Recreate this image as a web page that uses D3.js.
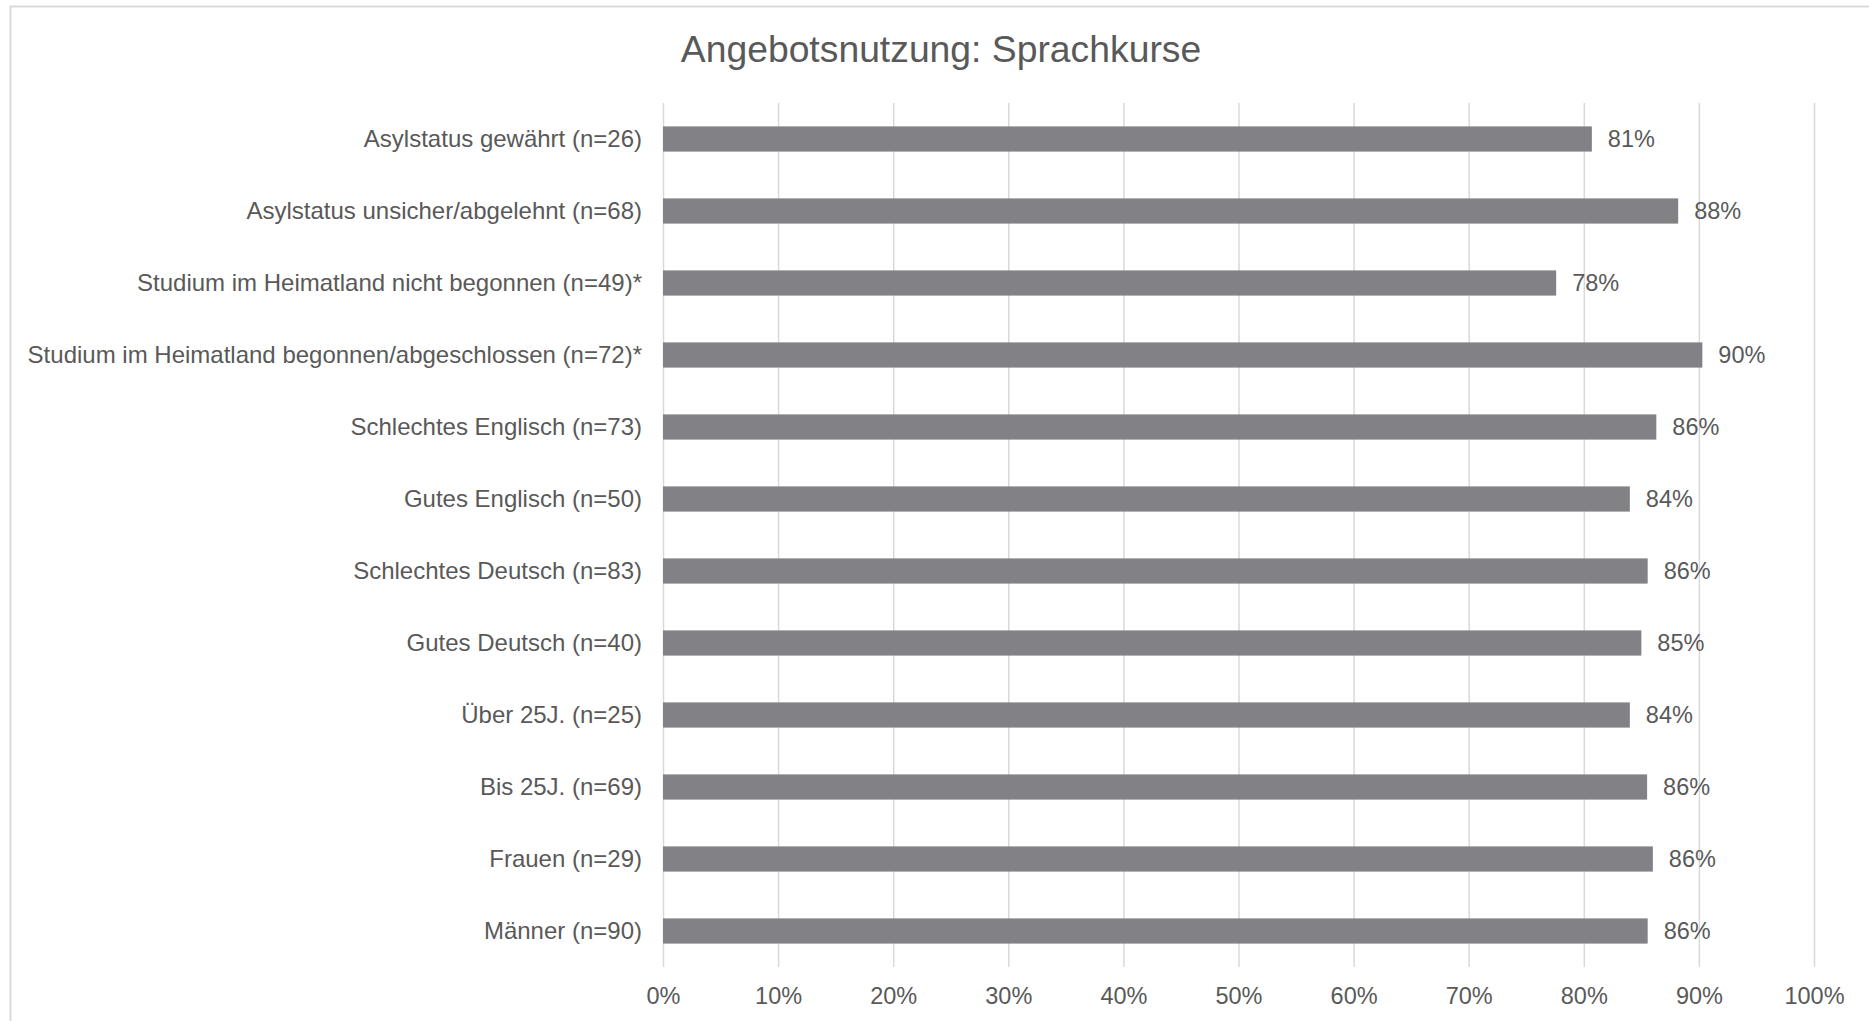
<!DOCTYPE html>
<head>
<meta charset="utf-8">
<title>Angebotsnutzung: Sprachkurse</title>
<script src="https://d3js.org/d3.v7.min.js"></script>
<style>
body {
	margin: 0;
	background: #fff;
}
text {
	font-family: "Liberation Sans", Arial, sans-serif;
	fill: #595959;
}
.grid line {
	stroke: #d9d9d9;
	stroke-width: 1.5px;
}
.grid path {
	display: none;
}
.bar {
	fill: #818186;
}
</style>
</head>
<body>
<svg id="chart" width="1869" height="1021"></svg>
<script>
// categories, top to bottom
var categories = [
	"Asylstatus gewährt (n=26)",
	"Asylstatus unsicher/abgelehnt (n=68)",
	"Studium im Heimatland nicht begonnen (n=49)*",
	"Studium im Heimatland begonnen/abgeschlossen (n=72)*",
	"Schlechtes Englisch (n=73)",
	"Gutes Englisch (n=50)",
	"Schlechtes Deutsch (n=83)",
	"Gutes Deutsch (n=40)",
	"Über 25J. (n=25)",
	"Bis 25J. (n=69)",
	"Frauen (n=29)",
	"Männer (n=90)"
];

// share using language courses
var shares = [0.807, 0.882, 0.776, 0.903, 0.863, 0.840, 0.8555, 0.850, 0.840, 0.855, 0.860, 0.8555];

var xTicks = [0, 0.1, 0.2, 0.3, 0.4, 0.5, 0.6, 0.7, 0.8, 0.9, 1];

var data = categories.map((c, i) => ({name: c, value: shares[i]}));

var svg = d3.select("#chart"),
    margin = {top: 103, right: 55, bottom: 54, left: 663},
    width = +svg.attr("width"),
    height = +svg.attr("height");

var pct = d3.format(".0%");

// chart frame (only top and left edges are visible)
svg.append("line")
	.attr("x1", 10).attr("x2", width)
	.attr("y1", 6.5).attr("y2", 6.5)
	.style("stroke", "#d9d9d9").style("stroke-width", 2);
svg.append("line")
	.attr("x1", 10.5).attr("x2", 10.5)
	.attr("y1", 6).attr("y2", height)
	.style("stroke", "#d9d9d9").style("stroke-width", 2);

var x = d3.scaleLinear()
	.domain([0, 1])
	.range([margin.left, width - margin.right]);

var y = d3.scaleBand()
	.domain(categories)
	.range([margin.top, height - margin.bottom])
	.paddingInner(0.65)
	.paddingOuter(0.325);

svg.append("text")
	.attr("x", 941)
	.attr("y", 62)
	.attr("text-anchor", "middle")
	.style("font-size", "37.3px")
	.text("Angebotsnutzung: Sprachkurse");

// gridlines + x tick labels
svg.append("g")
	.attr("class", "grid")
	.attr("transform", "translate(0," + (height - margin.bottom) + ")")
	.call(d3.axisBottom(x)
		.tickValues(xTicks)
		.tickFormat(pct)
		.tickSize(-(height - margin.bottom - margin.top))
		.tickPadding(20))
	.call(g => g.selectAll("text")
		.style("font-size", "23.5px")
		.style("font-family", "'Liberation Sans', Arial, sans-serif")
		.attr("fill", "#595959"));

// category labels
svg.append("g")
	.call(d3.axisLeft(y).tickSize(0).tickPadding(0))
	.attr("transform", "translate(642,0)")
	.call(g => g.select(".domain").remove())
	.call(g => g.selectAll("text")
		.style("font-size", "24px")
		.style("font-family", "'Liberation Sans', Arial, sans-serif")
		.attr("fill", "#595959"));

svg.selectAll(".bar")
	.data(data)
	.enter().append("rect")
	.attr("class", "bar")
	.attr("x", x(0))
	.attr("y", d => y(d.name))
	.attr("width", d => x(d.value) - x(0))
	.attr("height", y.bandwidth());

svg.selectAll(".value")
	.data(data)
	.enter().append("text")
	.attr("class", "value")
	.attr("x", d => x(d.value) + 16)
	.attr("y", d => y(d.name) + y.bandwidth() / 2)
	.attr("dy", "0.35em")
	.style("font-size", "23.5px")
	.text(d => pct(d.value));
</script>
</body>
</html>
